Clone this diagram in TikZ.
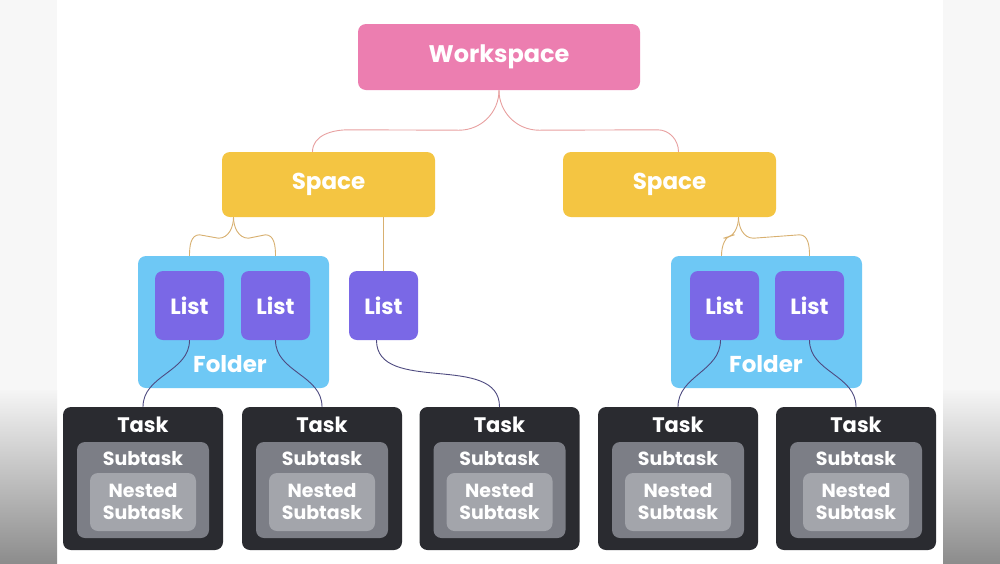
\documentclass[tikz,border=0pt]{standalone}
\usepackage{fontspec}
\setmainfont{Poppins}
\usetikzlibrary{calc}
\definecolor{wspink}{HTML}{EC7EB0}
\definecolor{spyellow}{HTML}{F4C542}
\definecolor{foldblue}{HTML}{6EC8F5}
\definecolor{listpurple}{HTML}{7A68E6}
\definecolor{taskdark}{HTML}{2A2B30}
\definecolor{subgray}{HTML}{7C7E86}
\definecolor{nestgray}{HTML}{A3A5AB}
\definecolor{linkpink}{HTML}{E8A0A0}
\definecolor{linktan}{HTML}{D8B070}
\definecolor{linkpurple}{HTML}{4E4A80}
\tikzset{
  box/.style={rounded corners=8pt, inner sep=0pt, text=white, font=\bfseries},
  link/.style={line width=0.9pt},
}
\begin{document}
\begin{tikzpicture}[x=1pt,y=-1pt]
\useasboundingbox (0,0) rectangle (1000,563);
% background
\fill[white] (0,0) rectangle (1000,563);
\fill[gray!6] (0,0) rectangle (57,390);
\fill[gray!6] (943,0) rectangle (1000,390);
\shade[top color=gray!8, bottom color=gray!90] (0,390) rectangle (57,563);
\shade[top color=gray!8, bottom color=gray!90] (943,390) rectangle (1000,563);
% top levels
\node[box, fill=wspink, minimum width=282pt, minimum height=66pt, font=\bfseries\fontsize{24}{28}\selectfont] (ws) at (499,57) {Workspace};
\node[box, fill=spyellow, minimum width=213pt, minimum height=65pt, font=\bfseries\fontsize{23}{27}\selectfont] (spL) at (328.5,184.5) {Space};
\node[box, fill=spyellow, minimum width=213pt, minimum height=65pt, font=\bfseries\fontsize{23}{27}\selectfont] (spR) at (669.5,184.5) {Space};
% folders
\foreach \name/\cx in {foldL/233.5, foldR/766.5}
  \node[box, fill=foldblue, minimum width=191pt, minimum height=132pt] (\name) at (\cx,322) {};
\node[text=white, font=\bfseries\fontsize{23}{27}\selectfont] (foldLlbl) at (230,364) {Folder};
\node[text=white, font=\bfseries\fontsize{23}{27}\selectfont] (foldRlbl) at (766,364) {Folder};
% lists
\foreach \name/\cx in {listA/189.5, listB/275.5, listC/383.5, listD/724.5, listE/809.5}
  \node[box, fill=listpurple, minimum width=69pt, minimum height=69pt, font=\bfseries\fontsize{22}{26}\selectfont] (\name) at (\cx,305.5) {List};
% tasks
\foreach \name/\cx in {taskA/143, taskB/322, taskC/499.5, taskD/678, taskE/856} {
  \node[box, fill=taskdark, minimum width=160pt, minimum height=143pt] (\name) at (\cx,478.5) {};
  \node[box, fill=subgray, minimum width=132pt, minimum height=96pt] (\name sub) at (\cx,490) {};
  \node[box, fill=nestgray, minimum width=106pt, minimum height=58pt] (\name nest) at (\cx,502) {};
  \node[text=white, font=\bfseries\fontsize{21}{24}\selectfont] at (\cx,425) {Task};
  \node[text=white, font=\bfseries\fontsize{19}{22}\selectfont] at (\cx,459) {Subtask};
  \node[text=white, font=\bfseries\fontsize{19}{22}\selectfont, align=center] at (\cx,502) {Nested\\Subtask};
}
% workspace to spaces
\draw[link, linkpink] (ws.south) to[out=-90,in=0] ($(ws.south)+(-40,40)$) -- ($(spL.north)+(20,-22)$) to[out=180,in=90] ($(spL.north)+(-16,0)$);
\draw[link, linkpink] (ws.south) to[out=-90,in=180] ($(ws.south)+(40,40)$) -- ($(spR.north)+(-12,-22)$) to[out=0,in=90] ($(spR.north)+(9,0)$);
% spaces to folders and list
\draw[link, linktan] ($(spL.south)+(-95,0)$) to[out=-90,in=0] ($(spL.south)+(-110,21)$) -- ($(listA.north)+(10,-36)$) to[out=180,in=90] (listA.north |- foldL.north);
\draw[link, linktan] ($(spL.south)+(-95,0)$) to[out=-90,in=180] ($(spL.south)+(-80,21)$) -- ($(listB.north)+(-10,-36)$) to[out=0,in=90] (listB.north |- foldL.north);
\draw[link, linktan] (listC.north |- spL.south) -- (listC.north);
\draw[link, linktan] ($(spR.south)+(69,0)$) to[out=-90,in=0] ($(spR.south)+(54,21)$) -- ($(listD.north)+(10,-36)$) to[out=180,in=90] ($(listD.north |- foldR.north)+(-3,0)$);
\draw[link, linktan] ($(spR.south)+(69,0)$) to[out=-90,in=180] ($(spR.south)+(84,21)$) -- ($(listE.north)+(-10,-36)$) to[out=0,in=90] (listE.north |- foldR.north);
% lists to tasks
\draw[link, linkpurple] (listA.south) to[out=-90,in=90] (taskA.north);
\draw[link, linkpurple] (listB.south) to[out=-90,in=90] (taskB.north);
\draw[link, linkpurple] ($(listC.south)+(-7,0)$) to[out=-90,in=90] (taskC.north);
\draw[link, linkpurple] ($(listD.south)+(-4,0)$) to[out=-90,in=90] (taskD.north);
\draw[link, linkpurple] (listE.south) to[out=-90,in=90] (taskE.north);
\end{tikzpicture}
\end{document}
